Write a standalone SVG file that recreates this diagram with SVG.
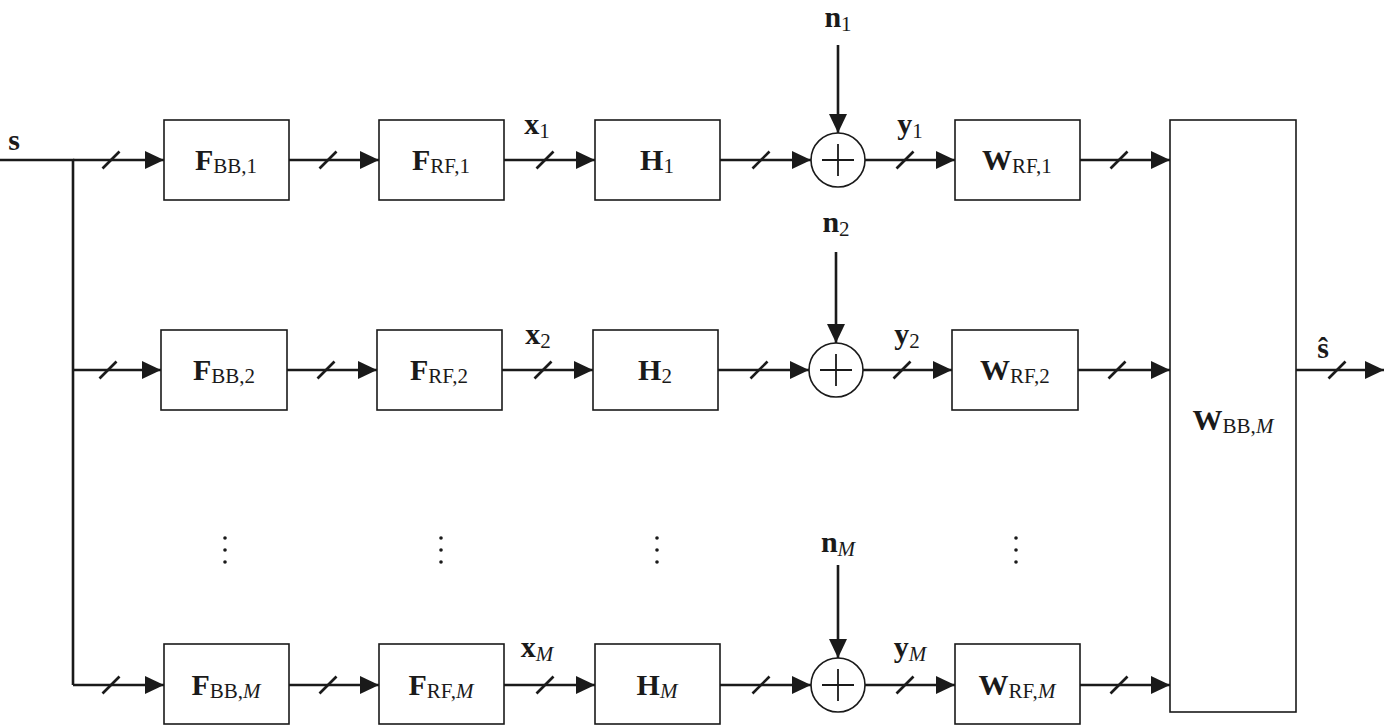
<svg xmlns="http://www.w3.org/2000/svg" width="1384" height="725" viewBox="0 0 1384 725">
<style>
.box{fill:#fff;stroke:#1a1a1a;stroke-width:1.6}
.ln{fill:none;stroke:#1a1a1a;stroke-width:2.6}
.pl{fill:none;stroke:#1a1a1a;stroke-width:1.8}
.sl{fill:none;stroke:#1a1a1a;stroke-width:2.6}
.t{font-family:"Liberation Serif",serif;font-size:30px;font-weight:bold;fill:#1a1a1a}
.sub{font-weight:normal;font-size:21px}
.it{font-style:italic}
.dot{fill:#1a1a1a}
</style>
<defs>
<marker id="ah" markerUnits="userSpaceOnUse" markerWidth="22" markerHeight="20" refX="19" refY="9" orient="auto">
<path d="M0,0 L19,9 L0,18 z" fill="#1a1a1a"/>
</marker>
<path id="slash" d="M-8.5,8.5 L8.5,-8.5" class="sl"/>
</defs>
<g id="connectors">
<path class="ln" d="M0,160 H73 V685"/>
<path class="ln" d="M73,160 H164" marker-end="url(#ah)"/>
<path class="ln" d="M73,370 H161" marker-end="url(#ah)"/>
<path class="ln" d="M73,685 H164" marker-end="url(#ah)"/>
<path class="ln" d="M289,160 H379" marker-end="url(#ah)"/>
<path class="ln" d="M504,160 H595" marker-end="url(#ah)"/>
<path class="ln" d="M720,160 H811" marker-end="url(#ah)"/>
<path class="ln" d="M865,160 H955" marker-end="url(#ah)"/>
<path class="ln" d="M1080,160 H1170" marker-end="url(#ah)"/>
<path class="ln" d="M838,45 V133" marker-end="url(#ah)"/>
<path class="ln" d="M287,370 H377" marker-end="url(#ah)"/>
<path class="ln" d="M502,370 H593" marker-end="url(#ah)"/>
<path class="ln" d="M718,370 H809" marker-end="url(#ah)"/>
<path class="ln" d="M863,370 H952" marker-end="url(#ah)"/>
<path class="ln" d="M1078,370 H1170" marker-end="url(#ah)"/>
<path class="ln" d="M836,252 V343" marker-end="url(#ah)"/>
<path class="ln" d="M289,685 H379" marker-end="url(#ah)"/>
<path class="ln" d="M504,685 H595" marker-end="url(#ah)"/>
<path class="ln" d="M720,685 H811" marker-end="url(#ah)"/>
<path class="ln" d="M865,685 H955" marker-end="url(#ah)"/>
<path class="ln" d="M1080,685 H1170" marker-end="url(#ah)"/>
<path class="ln" d="M838,565 V658" marker-end="url(#ah)"/>
<path class="ln" d="M1296,370 H1384" marker-end="url(#ah)"/>
<use href="#slash" x="111" y="160"/>
<use href="#slash" x="328" y="160"/>
<use href="#slash" x="545" y="160"/>
<use href="#slash" x="761" y="160"/>
<use href="#slash" x="905" y="160"/>
<use href="#slash" x="1119" y="160"/>
<use href="#slash" x="108" y="370"/>
<use href="#slash" x="326" y="370"/>
<use href="#slash" x="543" y="370"/>
<use href="#slash" x="759" y="370"/>
<use href="#slash" x="902" y="370"/>
<use href="#slash" x="1117" y="370"/>
<use href="#slash" x="1337" y="370"/>
<use href="#slash" x="111" y="685"/>
<use href="#slash" x="328" y="685"/>
<use href="#slash" x="545" y="685"/>
<use href="#slash" x="761" y="685"/>
<use href="#slash" x="905" y="685"/>
<use href="#slash" x="1119" y="685"/>
</g>
<g id="labels">
<text class="t" x="14" y="150" text-anchor="middle">s</text>
<text class="t" x="1323" y="358" text-anchor="middle">ŝ</text>
<text class="t" x="537" y="134" text-anchor="middle">x<tspan class="sub" dy="4">1</tspan></text>
<text class="t" x="910" y="134" text-anchor="middle">y<tspan class="sub" dy="4">1</tspan></text>
<text class="t" x="538" y="344" text-anchor="middle">x<tspan class="sub" dy="4">2</tspan></text>
<text class="t" x="907" y="344" text-anchor="middle">y<tspan class="sub" dy="4">2</tspan></text>
<text class="t" x="537" y="657" text-anchor="middle">x<tspan class="sub it" dy="4">M</tspan></text>
<text class="t" x="910" y="657" text-anchor="middle">y<tspan class="sub it" dy="4">M</tspan></text>
<text class="t" x="838" y="27" text-anchor="middle">n<tspan class="sub" dy="4">1</tspan></text>
<text class="t" x="836" y="232" text-anchor="middle">n<tspan class="sub" dy="4">2</tspan></text>
<text class="t" x="838" y="552" text-anchor="middle">n<tspan class="sub it" dy="4">M</tspan></text>
</g>
<g id="dots">
<circle class="dot" cx="225" cy="538" r="1.8"/><circle class="dot" cx="225" cy="550" r="1.8"/><circle class="dot" cx="225" cy="562" r="1.8"/>
<circle class="dot" cx="441" cy="538" r="1.8"/><circle class="dot" cx="441" cy="550" r="1.8"/><circle class="dot" cx="441" cy="562" r="1.8"/>
<circle class="dot" cx="657" cy="538" r="1.8"/><circle class="dot" cx="657" cy="550" r="1.8"/><circle class="dot" cx="657" cy="562" r="1.8"/>
<circle class="dot" cx="1016" cy="538" r="1.8"/><circle class="dot" cx="1016" cy="550" r="1.8"/><circle class="dot" cx="1016" cy="562" r="1.8"/>
</g>
<g id="FBB1"><rect class="box" x="164" y="120" width="125" height="80"/><text class="t" x="226" y="170" text-anchor="middle">F<tspan class="sub" dy="3">BB,1</tspan></text></g>
<g id="FRF1"><rect class="box" x="379" y="120" width="125" height="80"/><text class="t" x="441" y="170" text-anchor="middle">F<tspan class="sub" dy="3">RF,1</tspan></text></g>
<g id="H1"><rect class="box" x="595" y="120" width="125" height="80"/><text class="t" x="657" y="170" text-anchor="middle">H<tspan class="sub" dy="3">1</tspan></text></g>
<g id="sum1"><circle class="box" cx="838" cy="160" r="27"/><path class="pl" d="M822,160 H854 M838,144 V176"/></g>
<g id="WRF1"><rect class="box" x="955" y="120" width="125" height="80"/><text class="t" x="1017" y="170" text-anchor="middle">W<tspan class="sub" dy="3">RF,1</tspan></text></g>
<g id="FBB2"><rect class="box" x="161" y="330" width="126" height="80"/><text class="t" x="224" y="380" text-anchor="middle">F<tspan class="sub" dy="3">BB,2</tspan></text></g>
<g id="FRF2"><rect class="box" x="377" y="330" width="125" height="80"/><text class="t" x="439" y="380" text-anchor="middle">F<tspan class="sub" dy="3">RF,2</tspan></text></g>
<g id="H2"><rect class="box" x="593" y="330" width="125" height="80"/><text class="t" x="655" y="380" text-anchor="middle">H<tspan class="sub" dy="3">2</tspan></text></g>
<g id="sum2"><circle class="box" cx="836" cy="370" r="27"/><path class="pl" d="M820,370 H852 M836,354 V386"/></g>
<g id="WRF2"><rect class="box" x="952" y="330" width="126" height="80"/><text class="t" x="1015" y="380" text-anchor="middle">W<tspan class="sub" dy="3">RF,2</tspan></text></g>
<g id="FBBM"><rect class="box" x="164" y="644" width="125" height="80"/><text class="t" x="226" y="695" text-anchor="middle">F<tspan class="sub" dy="3">BB,<tspan class="it">M</tspan></tspan></text></g>
<g id="FRFM"><rect class="box" x="379" y="644" width="125" height="80"/><text class="t" x="441" y="695" text-anchor="middle">F<tspan class="sub" dy="3">RF,<tspan class="it">M</tspan></tspan></text></g>
<g id="HM"><rect class="box" x="595" y="644" width="125" height="80"/><text class="t" x="657" y="695" text-anchor="middle">H<tspan class="sub it" dy="3">M</tspan></text></g>
<g id="sumM"><circle class="box" cx="838" cy="685" r="27"/><path class="pl" d="M822,685 H854 M838,669 V701"/></g>
<g id="WRFM"><rect class="box" x="955" y="644" width="125" height="80"/><text class="t" x="1017" y="695" text-anchor="middle">W<tspan class="sub" dy="3">RF,<tspan class="it">M</tspan></tspan></text></g>
<g id="WBB"><rect class="box" x="1170" y="120" width="126" height="592"/><text class="t" x="1233" y="430" text-anchor="middle">W<tspan class="sub" dy="3">BB,<tspan class="it">M</tspan></tspan></text></g>
</svg>
